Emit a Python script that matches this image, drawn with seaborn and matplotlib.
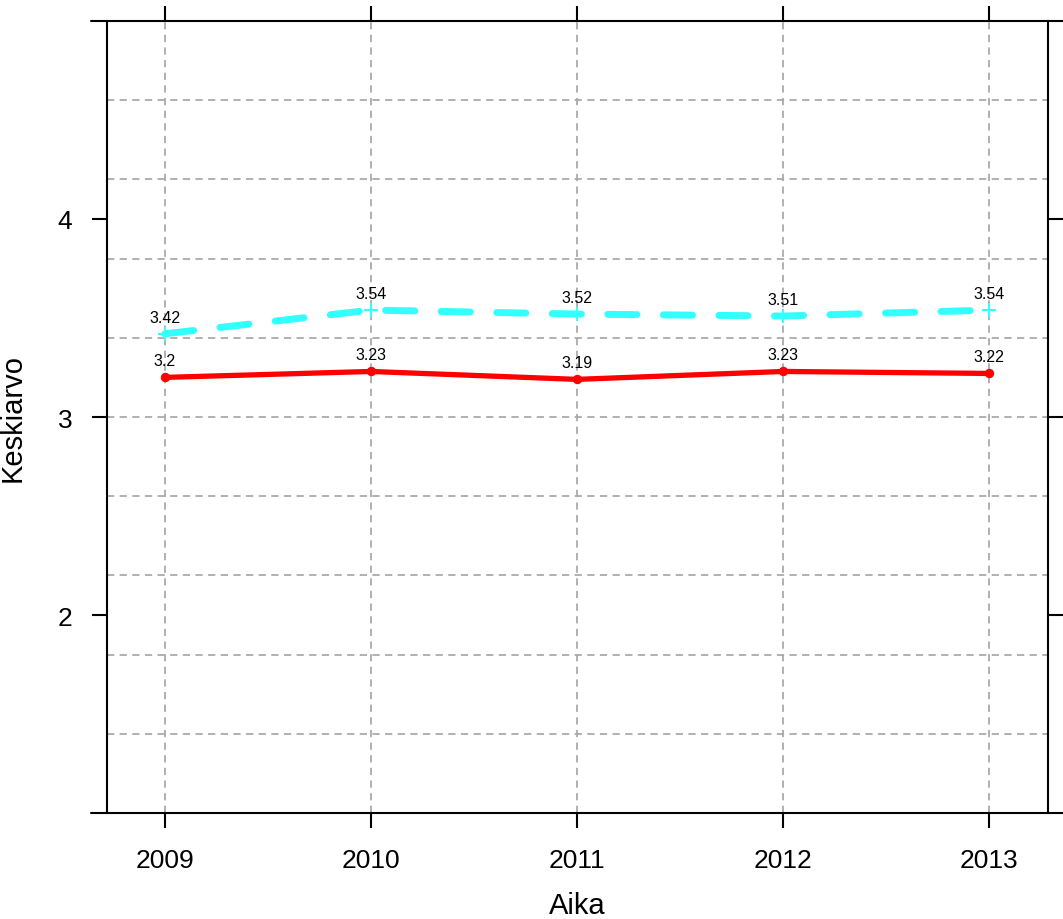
import numpy as np
import pandas as pd
import seaborn as sns
import matplotlib.pyplot as plt

years = [2009, 2010, 2011, 2012, 2013]
red_vals = [3.2, 3.23, 3.19, 3.23, 3.22]
cyan_vals = [3.42, 3.54, 3.52, 3.51, 3.54]
red_labels = ["3.2", "3.23", "3.19", "3.23", "3.22"]
cyan_labels = ["3.42", "3.54", "3.52", "3.51", "3.54"]
y_ticks = [2, 3, 4]
y_grid = [1.4, 1.8, 2.2, 2.6, 3.0, 3.4, 3.8, 4.2, 4.6]

sns.set_style("white")
plt.rcParams['font.family'] = ['Liberation Sans', 'DejaVu Sans']
plt.rcParams['text.color'] = 'black'
plt.rcParams['axes.labelcolor'] = 'black'
plt.rcParams['xtick.color'] = 'black'
plt.rcParams['ytick.color'] = 'black'

fig = plt.figure(figsize=(10.63, 9.2), dpi=100)
ax = fig.add_axes([0.1007, 0.1152, 0.8852, 0.8609])

# grid
for g in y_grid:
    ax.axhline(g, color='#aaaaaa', lw=1.3, ls=(0, (4, 3)), zorder=1)
for yr in years:
    ax.axvline(yr, color='#aaaaaa', lw=1.3, ls=(0, (4, 3)), zorder=1)

df_red = pd.DataFrame({'Aika': years, 'Keskiarvo': red_vals})
df_cyan = pd.DataFrame({'Aika': years, 'Keskiarvo': cyan_vals})

sns.lineplot(data=df_cyan, x='Aika', y='Keskiarvo', ax=ax, color='#33ffff',
             lw=5, marker='+', markersize=10, mew=1.5, mec='#33ffff',
             dashes=False, zorder=3)
ax.lines[-1].set_linestyle((0, (4.2, 3.8)))
ax.lines[-1].set_dash_capstyle('round')
sns.lineplot(data=df_red, x='Aika', y='Keskiarvo', ax=ax, color='#ff0000',
             lw=3.8, marker='o', markersize=6, mfc='#ff0000', mec='#ff0000',
             zorder=4)

for x, v, t in zip(years, red_vals, red_labels):
    ax.annotate(t, (x, v), xytext=(0, 12), textcoords='offset points',
                ha='center', va='center', fontsize=11.5, color='black')
for x, v, t in zip(years, cyan_vals, cyan_labels):
    ax.annotate(t, (x, v), xytext=(0, 12), textcoords='offset points',
                ha='center', va='center', fontsize=11.5, color='black')

ax.set_xlim(2008.72, 2013.285)
ax.set_ylim(1, 5)
ax.set_xticks(years)
ax.set_xticklabels([str(y) for y in years])
ax.set_yticks(y_ticks)
ax.set_yticklabels([str(y) for y in y_ticks])

ax.tick_params(axis='both', which='both', direction='out', length=11, width=1.5,
               color='black', labelcolor='black', labelsize=19, pad=14,
               left=True, bottom=True, top=True, right=True,
               labeltop=False, labelright=False)

for s in ['top', 'bottom']:
    ax.spines[s].set_visible(False)
for s in ['left', 'right']:
    ax.spines[s].set_linewidth(1.5)
    ax.spines[s].set_color('black')
# horizontal frame lines extend past the box (lattice style)
for yv in [1, 5]:
    ax.axhline(yv, xmin=-0.017, xmax=1.03, color='black', lw=1.5, clip_on=False, zorder=5)

ax.set_xlabel('Aika', fontsize=21, labelpad=14)
ax.set_ylabel('Keskiarvo', fontsize=21, labelpad=22)

fig.savefig('out.png', dpi=100)
